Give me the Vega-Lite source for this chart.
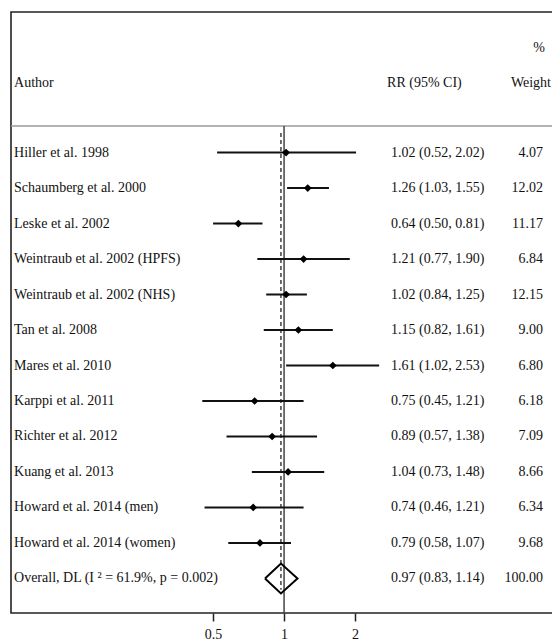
{
  "$schema": "https://vega.github.io/schema/vega-lite/v6.json",
  "width": 545,
  "height": 601,
  "autosize": "none",
  "padding": {"left": 11, "top": 12, "right": 0, "bottom": 27},
  "background": "white",
  "config": {
    "view": {"stroke": "#222", "strokeWidth": 1.6},
    "text": {"font": "Liberation Serif", "fontSize": 14, "color": "#111", "baseline": "middle"},
    "axisX": {"title": null, "grid": false, "domain": false, "ticks": true, "tickSize": 8, "tickColor": "#222", "tickWidth": 1.5, "labelFont": "Liberation Serif", "labelFontSize": 14, "labelColor": "#111", "labelPadding": 6}
  },
  "datasets": {
    "studies": [
      {"author": "Hiller et al. 1998", "row": 1, "rr": 1.02, "lo": 0.52, "hi": 2.02},
      {"author": "Schaumberg et al. 2000", "row": 2, "rr": 1.26, "lo": 1.03, "hi": 1.55},
      {"author": "Leske et al. 2002", "row": 3, "rr": 0.64, "lo": 0.50, "hi": 0.81},
      {"author": "Weintraub et al. 2002 (HPFS)", "row": 4, "rr": 1.21, "lo": 0.77, "hi": 1.90},
      {"author": "Weintraub et al. 2002 (NHS)", "row": 5, "rr": 1.02, "lo": 0.84, "hi": 1.25},
      {"author": "Tan et al. 2008", "row": 6, "rr": 1.15, "lo": 0.82, "hi": 1.61},
      {"author": "Mares et al. 2010", "row": 7, "rr": 1.61, "lo": 1.02, "hi": 2.53},
      {"author": "Karppi et al. 2011", "row": 8, "rr": 0.75, "lo": 0.45, "hi": 1.21},
      {"author": "Richter et al. 2012", "row": 9, "rr": 0.89, "lo": 0.57, "hi": 1.38},
      {"author": "Kuang et al. 2013", "row": 10, "rr": 1.04, "lo": 0.73, "hi": 1.48},
      {"author": "Howard et al. 2014 (men)", "row": 11, "rr": 0.74, "lo": 0.46, "hi": 1.21},
      {"author": "Howard et al. 2014 (women)", "row": 12, "rr": 0.79, "lo": 0.58, "hi": 1.07}
    ],
    "labels": [
      {"author": "Hiller et al. 1998", "row": 1, "ci": "1.02 (0.52, 2.02)", "weight": "4.07"},
      {"author": "Schaumberg et al. 2000", "row": 2, "ci": "1.26 (1.03, 1.55)", "weight": "12.02"},
      {"author": "Leske et al. 2002", "row": 3, "ci": "0.64 (0.50, 0.81)", "weight": "11.17"},
      {"author": "Weintraub et al. 2002 (HPFS)", "row": 4, "ci": "1.21 (0.77, 1.90)", "weight": "6.84"},
      {"author": "Weintraub et al. 2002 (NHS)", "row": 5, "ci": "1.02 (0.84, 1.25)", "weight": "12.15"},
      {"author": "Tan et al. 2008", "row": 6, "ci": "1.15 (0.82, 1.61)", "weight": "9.00"},
      {"author": "Mares et al. 2010", "row": 7, "ci": "1.61 (1.02, 2.53)", "weight": "6.80"},
      {"author": "Karppi et al. 2011", "row": 8, "ci": "0.75 (0.45, 1.21)", "weight": "6.18"},
      {"author": "Richter et al. 2012", "row": 9, "ci": "0.89 (0.57, 1.38)", "weight": "7.09"},
      {"author": "Kuang et al. 2013", "row": 10, "ci": "1.04 (0.73, 1.48)", "weight": "8.66"},
      {"author": "Howard et al. 2014 (men)", "row": 11, "ci": "0.74 (0.46, 1.21)", "weight": "6.34"},
      {"author": "Howard et al. 2014 (women)", "row": 12, "ci": "0.79 (0.58, 1.07)", "weight": "9.68"},
      {"author": "Overall, DL (I ² = 61.9%, p = 0.002)", "row": 13, "ci": "0.97 (0.83, 1.14)", "weight": "100.00"}
    ],
    "diamond": [
      {"v": 0.83, "row": 13, "o": 0},
      {"v": 0.97, "row": 12.58, "o": 1},
      {"v": 1.14, "row": 13, "o": 2},
      {"v": 0.97, "row": 13.42, "o": 3},
      {"v": 0.83, "row": 13, "o": 4}
    ]
  },
  "layer": [
    {
      "data": {"values": [{}]},
      "mark": {"type": "rule", "color": "#9a9a9a", "strokeWidth": 1.5},
      "encoding": {
        "y": {"datum": 0.254, "type": "quantitative", "scale": {"domain": [-2.958, 13.972], "reverse": true, "nice": false, "zero": false}, "axis": null}
      }
    },
    {
      "data": {"values": [{}]},
      "mark": {"type": "rule", "color": "#444", "strokeWidth": 1.5},
      "encoding": {
        "x": {"datum": 1, "type": "quantitative", "scale": {"type": "log", "domain": [0.0695, 14.23], "nice": false}, "axis": {"values": [0.5, 1, 2], "format": "~g"}},
        "y": {"datum": 0.254, "type": "quantitative", "scale": {"domain": [-2.958, 13.972], "reverse": true, "nice": false, "zero": false}, "axis": null},
        "y2": {"datum": 13.972}
      }
    },
    {
      "data": {"values": [{}]},
      "mark": {"type": "rule", "color": "#222", "strokeWidth": 1.3, "strokeDash": [4, 3]},
      "encoding": {
        "x": {"datum": 0.97, "type": "quantitative", "scale": {"type": "log", "domain": [0.0695, 14.23], "nice": false}, "axis": {"values": [0.5, 1, 2], "format": "~g"}},
        "y": {"datum": 0.45, "type": "quantitative", "scale": {"domain": [-2.958, 13.972], "reverse": true, "nice": false, "zero": false}, "axis": null},
        "y2": {"datum": 13.32}
      }
    },
    {
      "data": {"name": "studies"},
      "mark": {"type": "rule", "color": "#111", "strokeWidth": 2},
      "encoding": {
        "x": {"field": "lo", "type": "quantitative", "scale": {"type": "log", "domain": [0.0695, 14.23], "nice": false}, "axis": {"values": [0.5, 1, 2], "format": "~g"}},
        "x2": {"field": "hi"},
        "y": {"field": "row", "type": "quantitative", "scale": {"domain": [-2.958, 13.972], "reverse": true, "nice": false, "zero": false}, "axis": null}
      }
    },
    {
      "data": {"name": "studies"},
      "mark": {"type": "point", "shape": "diamond", "filled": true, "color": "#000", "size": 60, "opacity": 1},
      "encoding": {
        "x": {"field": "rr", "type": "quantitative", "scale": {"type": "log", "domain": [0.0695, 14.23], "nice": false}, "axis": {"values": [0.5, 1, 2], "format": "~g"}},
        "y": {"field": "row", "type": "quantitative", "scale": {"domain": [-2.958, 13.972], "reverse": true, "nice": false, "zero": false}, "axis": null}
      }
    },
    {
      "data": {"name": "diamond"},
      "mark": {"type": "line", "color": "#000", "strokeWidth": 2, "strokeJoin": "miter"},
      "encoding": {
        "x": {"field": "v", "type": "quantitative", "scale": {"type": "log", "domain": [0.0695, 14.23], "nice": false}, "axis": {"values": [0.5, 1, 2], "format": "~g"}},
        "y": {"field": "row", "type": "quantitative", "scale": {"domain": [-2.958, 13.972], "reverse": true, "nice": false, "zero": false}, "axis": null},
        "order": {"field": "o", "type": "quantitative"}
      }
    },
    {
      "data": {"name": "labels"},
      "mark": {"type": "text", "align": "left"},
      "encoding": {
        "x": {"datum": 0.0716, "type": "quantitative", "scale": {"type": "log", "domain": [0.0695, 14.23], "nice": false}, "axis": {"values": [0.5, 1, 2], "format": "~g"}},
        "y": {"field": "row", "type": "quantitative", "scale": {"domain": [-2.958, 13.972], "reverse": true, "nice": false, "zero": false}, "axis": null},
        "text": {"field": "author"}
      }
    },
    {
      "data": {"name": "labels"},
      "mark": {"type": "text", "align": "left"},
      "encoding": {
        "x": {"datum": 2.842, "type": "quantitative", "scale": {"type": "log", "domain": [0.0695, 14.23], "nice": false}, "axis": {"values": [0.5, 1, 2], "format": "~g"}},
        "y": {"field": "row", "type": "quantitative", "scale": {"domain": [-2.958, 13.972], "reverse": true, "nice": false, "zero": false}, "axis": null},
        "text": {"field": "ci"}
      }
    },
    {
      "data": {"name": "labels"},
      "mark": {"type": "text", "align": "right"},
      "encoding": {
        "x": {"datum": 12.54, "type": "quantitative", "scale": {"type": "log", "domain": [0.0695, 14.23], "nice": false}, "axis": {"values": [0.5, 1, 2], "format": "~g"}},
        "y": {"field": "row", "type": "quantitative", "scale": {"domain": [-2.958, 13.972], "reverse": true, "nice": false, "zero": false}, "axis": null},
        "text": {"field": "weight"}
      }
    },
    {
      "data": {"values": [{}]},
      "mark": {"type": "text", "align": "left"},
      "encoding": {
        "x": {"datum": 0.0716, "type": "quantitative", "scale": {"type": "log", "domain": [0.0695, 14.23], "nice": false}, "axis": {"values": [0.5, 1, 2], "format": "~g"}},
        "y": {"datum": -0.966, "type": "quantitative", "scale": {"domain": [-2.958, 13.972], "reverse": true, "nice": false, "zero": false}, "axis": null},
        "text": {"value": "Author"}
      }
    },
    {
      "data": {"values": [{}]},
      "mark": {"type": "text", "align": "left"},
      "encoding": {
        "x": {"datum": 2.734, "type": "quantitative", "scale": {"type": "log", "domain": [0.0695, 14.23], "nice": false}, "axis": {"values": [0.5, 1, 2], "format": "~g"}},
        "y": {"datum": -0.966, "type": "quantitative", "scale": {"domain": [-2.958, 13.972], "reverse": true, "nice": false, "zero": false}, "axis": null},
        "text": {"value": "RR (95% CI)"}
      }
    },
    {
      "data": {"values": [{}]},
      "mark": {"type": "text", "align": "right"},
      "encoding": {
        "x": {"datum": 13.55, "type": "quantitative", "scale": {"type": "log", "domain": [0.0695, 14.23], "nice": false}, "axis": {"values": [0.5, 1, 2], "format": "~g"}},
        "y": {"datum": -0.966, "type": "quantitative", "scale": {"domain": [-2.958, 13.972], "reverse": true, "nice": false, "zero": false}, "axis": null},
        "text": {"value": "Weight"}
      }
    },
    {
      "data": {"values": [{}]},
      "mark": {"type": "text", "align": "right"},
      "encoding": {
        "x": {"datum": 12.78, "type": "quantitative", "scale": {"type": "log", "domain": [0.0695, 14.23], "nice": false}, "axis": {"values": [0.5, 1, 2], "format": "~g"}},
        "y": {"datum": -1.944, "type": "quantitative", "scale": {"domain": [-2.958, 13.972], "reverse": true, "nice": false, "zero": false}, "axis": null},
        "text": {"value": "%"}
      }
    }
  ]
}
